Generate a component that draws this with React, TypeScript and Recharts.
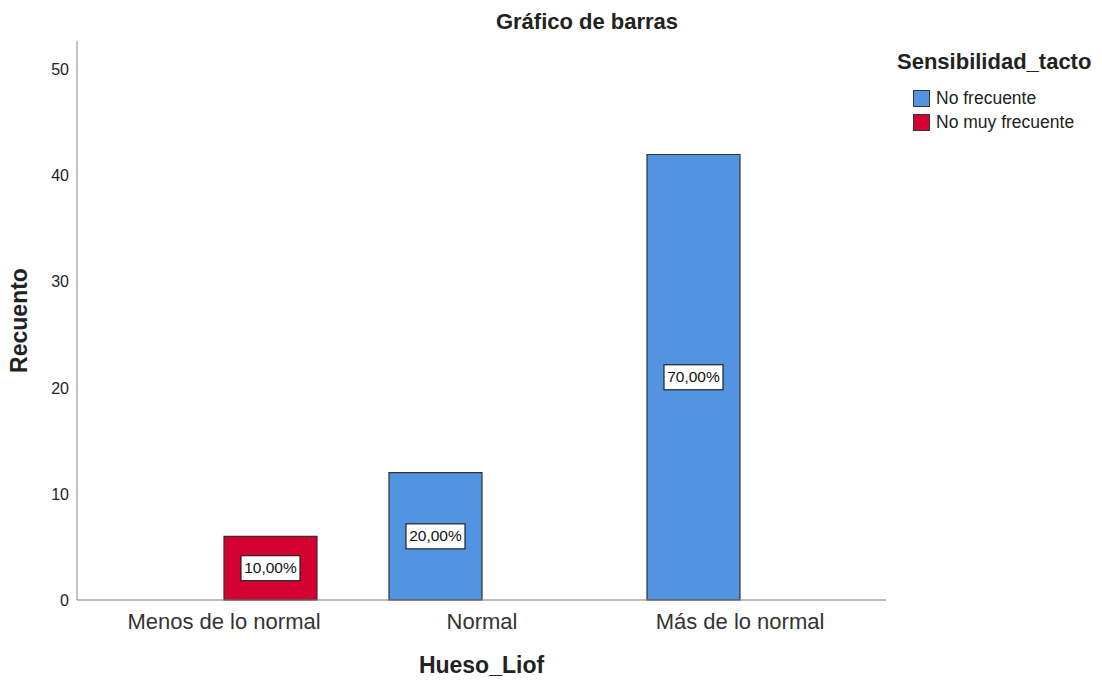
import { BarChart, Bar, XAxis, YAxis, LabelList, Label } from "recharts"

const categories = ["Menos de lo normal", "Normal", "Más de lo normal"]
const noFrecuente = [null, 12, 42]
const noMuyFrecuente = [6, null, null]
const seriesNames = ["No frecuente", "No muy frecuente"]
const seriesColors = ["#5294E2", "#D50032"]
const yTicks = [0, 10, 20, 30, 40, 50]

const total = [...noFrecuente, ...noMuyFrecuente].reduce<number>((s, v) => s + (v ?? 0), 0)

const data = categories.map((name, i) => ({
  name,
  noFrecuente: noFrecuente[i],
  noMuyFrecuente: noMuyFrecuente[i],
}))

const FONT = "'Liberation Sans', Arial, sans-serif"

const fmtPct = (v: number) => ((v / total) * 100).toFixed(2).replace(".", ",") + "%"

const PctLabel = (props: any) => {
  const { x, y, width, height, value } = props
  if (value == null || value === 0) return null
  const cx = x + width / 2
  const cy = y + height / 2
  const w = 59
  const h = 25
  return (
    <g>
      <rect x={cx - w / 2} y={cy - h / 2} width={w} height={h} fill="#fff" stroke="#222" strokeWidth={1.2} />
      <text x={cx} y={cy + 1} textAnchor="middle" dominantBaseline="middle" fontSize={15.5} fill="#111" fontFamily={FONT}>
        {fmtPct(value)}
      </text>
    </g>
  )
}

export default function App() {
  return (
    <div style={{ position: "absolute", left: 0, top: 0, width: 1102, height: 681, background: "#fff", fontFamily: FONT }}>
      <div style={{ position: "absolute", left: 0, width: 1174, top: 9, textAlign: "center", fontWeight: "bold", fontSize: 22, color: "#222" }}>
        Gráfico de barras
      </div>
      <div style={{ position: "absolute", left: 897, top: 51, color: "#222" }}>
        <div style={{ fontWeight: "bold", fontSize: 22, lineHeight: "22px" }}>Sensibilidad_tacto</div>
        <div style={{ marginTop: 13, marginLeft: 16 }}>
          {seriesNames.map((n, i) => (
            <div key={n} style={{ display: "flex", alignItems: "center", height: 24 }}>
              <span style={{ display: "inline-block", width: 15, height: 15, background: seriesColors[i], border: "1px solid #333", marginRight: 6 }} />
              <span style={{ fontSize: 17.5 }}>{n}</span>
            </div>
          ))}
        </div>
      </div>
      <BarChart width={1102} height={681} data={data} margin={{ top: 41, right: 216, bottom: 0, left: 0 }} barGap={0} barSize={93}>
        <XAxis
          dataKey="name"
          height={81}
          padding={{ left: 18, right: 17 }}
          axisLine={{ stroke: "#777" }}
          tickLine={false}
          tickSize={0}
          tickMargin={13}
          tick={{ fontSize: 22, fill: "#333", fontFamily: FONT }}
        >
          <Label
            content={(p: any) => {
              const vb = p.viewBox || { x: 77, y: 600, width: 809 }
              return (
                <text x={vb.x + vb.width / 2} y={vb.y + 67} textAnchor="middle" dominantBaseline="middle" fontSize={23} fontWeight="bold" fill="#222" fontFamily={FONT}>
                  Hueso_Liof
                </text>
              )
            }}
          />
        </XAxis>
        <YAxis
          width={77}
          domain={[0, 52.7]}
          ticks={yTicks}
          axisLine={{ stroke: "#888" }}
          tickLine={false}
          tickSize={0}
          tickMargin={8}
          tick={{ fontSize: 16, fill: "#222", fontFamily: FONT }}
        >
          <Label
            content={(p: any) => {
              const vb = p.viewBox || { x: 0, y: 41, height: 559 }
              const cx = vb.x + 21
              const cy = vb.y + vb.height / 2
              return (
                <text x={cx} y={cy} transform={`rotate(-90 ${cx} ${cy})`} textAnchor="middle" dominantBaseline="middle" fontSize={23} fontWeight="bold" fill="#222" fontFamily={FONT}>
                  Recuento
                </text>
              )
            }}
          />
        </YAxis>
        <Bar dataKey="noFrecuente" name={seriesNames[0]} fill={seriesColors[0]} stroke="#333" strokeWidth={1.2} isAnimationActive={false}>
          <LabelList dataKey="noFrecuente" content={PctLabel} />
        </Bar>
        <Bar dataKey="noMuyFrecuente" name={seriesNames[1]} fill={seriesColors[1]} stroke="#333" strokeWidth={1.2} isAnimationActive={false}>
          <LabelList dataKey="noMuyFrecuente" content={PctLabel} />
        </Bar>
      </BarChart>
    </div>
  )
}
